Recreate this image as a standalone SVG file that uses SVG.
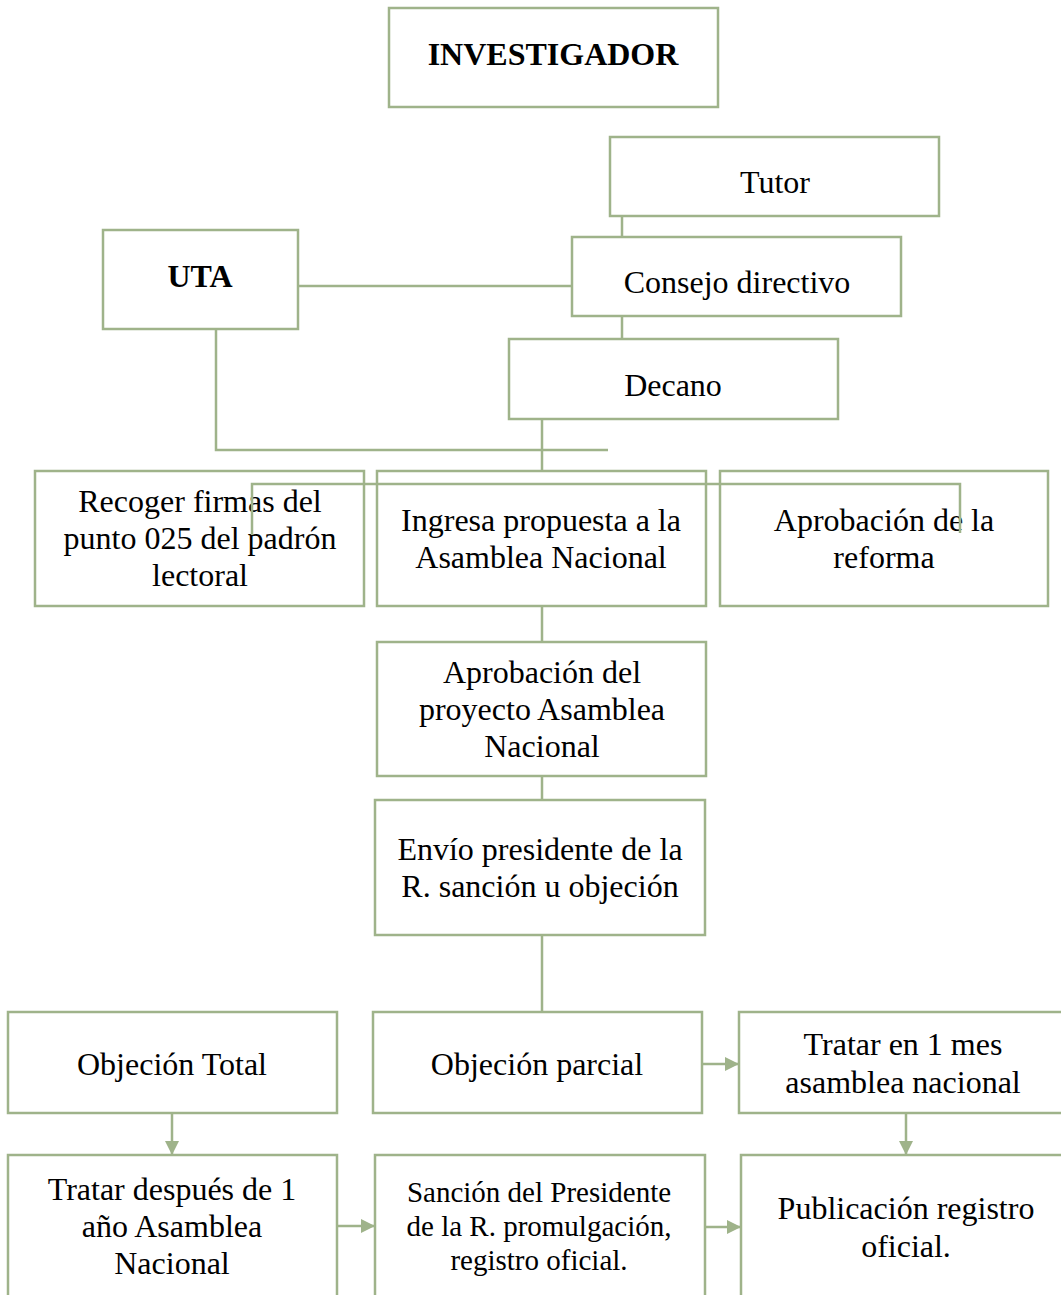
<svg xmlns="http://www.w3.org/2000/svg" width="1061" height="1295" viewBox="0 0 1061 1295">
<defs>
<style>
.box{fill:#fff;stroke:#9fb38a;stroke-width:2.5}
.ln{fill:none;stroke:#9fb38a;stroke-width:2.5}
text{font-family:"Liberation Serif","Times New Roman",serif;font-size:32px;fill:#000;text-anchor:middle}
.b{font-weight:bold}
.s{font-size:29px}
</style>
<marker id="ar" viewBox="0 0 14 14" refX="14" refY="7" markerWidth="14" markerHeight="14" markerUnits="userSpaceOnUse" orient="auto">
<path d="M0,0 L14,7 L0,14 Z" fill="#9fb38a"/>
</marker>
</defs>
<rect width="1061" height="1295" fill="#fff"/>
<g id="connectors">
<line class="ln" x1="622" y1="217" x2="622" y2="237"/>
<line class="ln" x1="298" y1="286" x2="572" y2="286"/>
<line class="ln" x1="622" y1="316" x2="622" y2="339"/>
<line class="ln" x1="542" y1="419" x2="542" y2="471"/>
<polyline class="ln" points="216,329 216,450 608,450"/>
<line class="ln" x1="542" y1="606" x2="542" y2="642"/>
<line class="ln" x1="542" y1="776" x2="542" y2="800"/>
<line class="ln" x1="542" y1="935" x2="542" y2="1012"/>
<line class="ln" x1="702" y1="1064" x2="739" y2="1064" marker-end="url(#ar)"/>
<line class="ln" x1="172" y1="1113" x2="172" y2="1155" marker-end="url(#ar)"/>
<line class="ln" x1="906" y1="1113" x2="906" y2="1155" marker-end="url(#ar)"/>
<line class="ln" x1="337" y1="1226" x2="375" y2="1226" marker-end="url(#ar)"/>
<line class="ln" x1="705" y1="1227" x2="741" y2="1227" marker-end="url(#ar)"/>
</g>
<g id="investigador"><rect class="box" x="389" y="8" width="329" height="99"/><text class="b" x="553" y="65">INVESTIGADOR</text></g>
<g id="tutor"><rect class="box" x="610" y="137" width="329" height="79"/><text x="775" y="193">Tutor</text></g>
<g id="uta"><rect class="box" x="103" y="230" width="195" height="99"/><text class="b" x="200" y="287">UTA</text></g>
<g id="consejo"><rect class="box" x="572" y="237" width="329" height="79"/><text x="737" y="293">Consejo directivo</text></g>
<g id="decano"><rect class="box" x="509" y="339" width="329" height="80"/><text x="673" y="396">Decano</text></g>
<g id="recoger"><rect class="box" x="35" y="471" width="329" height="135"/><text x="200" y="512">Recoger firmas del</text><text x="200" y="549">punto 025 del padrón</text><text x="200" y="586">lectoral</text></g>
<g id="ingresa"><rect class="box" x="377" y="471" width="329" height="135"/><text x="541" y="531">Ingresa propuesta a la</text><text x="541" y="568">Asamblea Nacional</text></g>
<g id="aprobacion-reforma"><rect class="box" x="720" y="471" width="328" height="135"/><text x="884" y="531">Aprobación de la</text><text x="884" y="568">reforma</text></g>
<g id="overlay-line"><polyline class="ln" points="252,535 252,484 960,484 960,533"/></g>
<g id="aprobacion-proyecto"><rect class="box" x="377" y="642" width="329" height="134"/><text x="542" y="683">Aprobación del</text><text x="542" y="720">proyecto Asamblea</text><text x="542" y="757">Nacional</text></g>
<g id="envio"><rect class="box" x="375" y="800" width="330" height="135"/><text x="540" y="860">Envío presidente de la</text><text x="540" y="897">R. sanción u objeción</text></g>
<g id="objecion-total"><rect class="box" x="8" y="1012" width="329" height="101"/><text x="172" y="1075">Objeción Total</text></g>
<g id="objecion-parcial"><rect class="box" x="373" y="1012" width="329" height="101"/><text x="537" y="1075">Objeción parcial</text></g>
<g id="tratar-mes"><rect class="box" x="739" y="1012" width="330" height="101"/><text x="903" y="1055">Tratar en 1 mes</text><text x="903" y="1093">asamblea nacional</text></g>
<g id="tratar-anio"><rect class="box" x="8" y="1155" width="329" height="150"/><text x="172" y="1200">Tratar después de 1</text><text x="172" y="1237">año Asamblea</text><text x="172" y="1274">Nacional</text></g>
<g id="sancion"><rect class="box" x="375" y="1155" width="330" height="150"/><text class="s" x="539" y="1202">Sanción del Presidente</text><text class="s" x="539" y="1236">de la R. promulgación,</text><text class="s" x="539" y="1270">registro oficial.</text></g>
<g id="publicacion"><rect class="box" x="741" y="1155" width="330" height="150"/><text x="906" y="1219">Publicación registro</text><text x="906" y="1257">oficial.</text></g>
</svg>
